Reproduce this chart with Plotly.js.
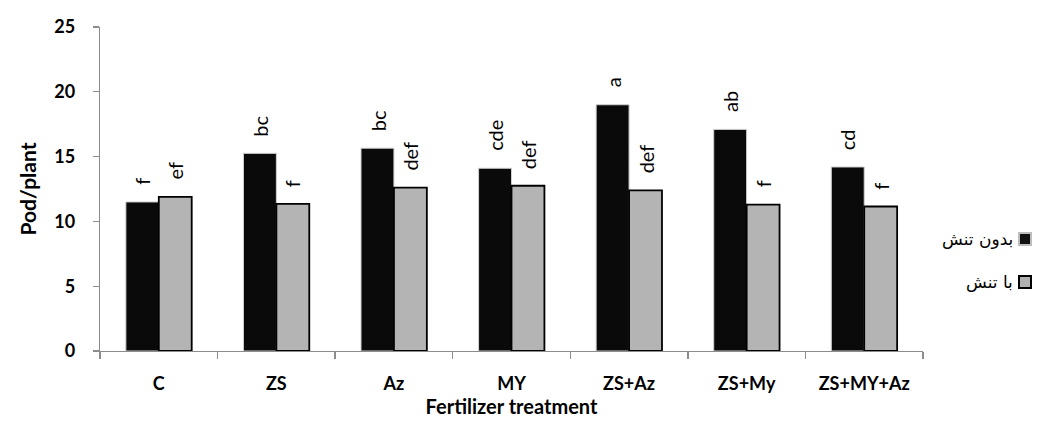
<!DOCTYPE html>
<html>
<head>
<meta charset="utf-8">
<script src="https://cdn.plot.ly/plotly-3.0.1.min.js"></script>
<style>html,body{margin:0;padding:0;background:#fff;}#chart{width:1041px;height:430px;}</style>
</head>
<body>
<div id="chart"></div>
<script>
// ---- data ----
const categories = ["C", "ZS", "Az", "MY", "ZS+Az", "ZS+My", "ZS+MY+Az"];
const noStress = [11.5, 15.25, 15.65, 14.1, 19.0, 17.1, 14.2];
const withStress = [11.9, 11.35, 12.6, 12.75, 12.4, 11.3, 11.15];
const noStressLetters = ["f", "bc", "bc", "cde", "a", "ab", "cd"];
const withStressLetters = ["ef", "f", "def", "def", "def", "f", "f"];
const seriesNames = ["بدون تنش", "با تنش"];
const yTicks = [0, 5, 10, 15, 20, 25];

// ---- layout geometry ----
const W = 1041, H = 430;
const L = 100, R = 923, T = 27, B = 351;
const px = x => (x - L) / (R - L);
const py = y => (B - y) / (B - T);
const BARGAP = 0.44;
const halfBar = ((R - L) / categories.length) * (1 - BARGAP) / 4;

const FONT = "Lato, 'Liberation Sans', sans-serif";
const labelFont = {family: FONT, size: 20, color: "#000"};

const traces = [
  {
    type: "bar", name: seriesNames[0], x: categories, y: noStress,
    marker: {color: "#0a0a0a", line: {color: "#d0d0d0", width: 1}},
    hoverinfo: "x+y"
  },
  {
    type: "bar", name: seriesNames[1], x: categories, y: withStress,
    marker: {color: "#b4b4b4", line: {color: "#000", width: 1.8}},
    hoverinfo: "x+y"
  }
];

const annotations = [], shapes = [];
// significance letters above bars
[[noStress, noStressLetters, -halfBar], [withStress, withStressLetters, halfBar]].forEach(([vals, letters, dx]) => {
  categories.forEach((c, i) => {
    annotations.push({
      xref: "x", yref: "y", x: c, y: vals[i], xshift: dx, yshift: 15,
      text: letters[i], textangle: -90, showarrow: false,
      xanchor: "center", yanchor: "bottom", font: labelFont
    });
  });
});

const legendRows = [
  {y: 239, fill: "#111", line: "#bdbdbd"},
  {y: 282, fill: "#b0b0b0", line: "#000"}
];
legendRows.forEach((r, i) => {
  annotations.push({
    xref: "paper", yref: "paper", x: px(1015), y: py(r.y),
    xanchor: "right", yanchor: "middle", showarrow: false,
    text: seriesNames[i],
    font: {family: "'DejaVu Sans', 'Noto Sans', sans-serif", size: 17, color: "#000"}
  });
  shapes.push({
    type: "rect", xref: "paper", yref: "paper",
    x0: px(1019), x1: px(1031), y0: py(r.y + 6), y1: py(r.y - 6),
    fillcolor: r.fill, line: {color: r.line, width: 2}
  });
});

const layout = {
  width: W, height: H,
  margin: {l: L, r: W - R, t: T, b: H - B, pad: 0},
  paper_bgcolor: "#fff", plot_bgcolor: "#fff",
  showlegend: false,
  barmode: "group", bargap: BARGAP, bargroupgap: 0,
  font: {family: FONT, color: "#000"},
  xaxis: {
    type: "category",
    showline: true, linecolor: "#8c8c8c", linewidth: 1.3,
    ticks: "outside", tickson: "boundaries", ticklen: 7, tickcolor: "#8c8c8c", tickwidth: 1.3,
    ticklabelstandoff: 16,
    tickfont: {family: FONT, size: 18, color: "#000", weight: "bold"},
    title: {text: "<b>Fertilizer treatment</b>", standoff: 6,
            font: {family: FONT, size: 20, color: "#000"}},
    showgrid: false, zeroline: false, fixedrange: true
  },
  yaxis: {
    range: [0, 25], tickvals: yTicks, ticktext: yTicks.map(String),
    showline: true, linecolor: "#8c8c8c", linewidth: 1.3,
    ticks: "outside", ticklen: 6, tickcolor: "#8c8c8c", tickwidth: 1.3,
    ticklabelstandoff: 14,
    tickfont: {family: FONT, size: 18, color: "#000", weight: "bold"},
    title: {text: "<b>Pod/plant</b>", standoff: 12,
            font: {family: FONT, size: 21, color: "#000"}},
    showgrid: false, zeroline: false, fixedrange: true
  },
  annotations: annotations,
  shapes: shapes
};

Plotly.newPlot("chart", traces, layout, {displayModeBar: false, staticPlot: true});
</script>
</body>
</html>
